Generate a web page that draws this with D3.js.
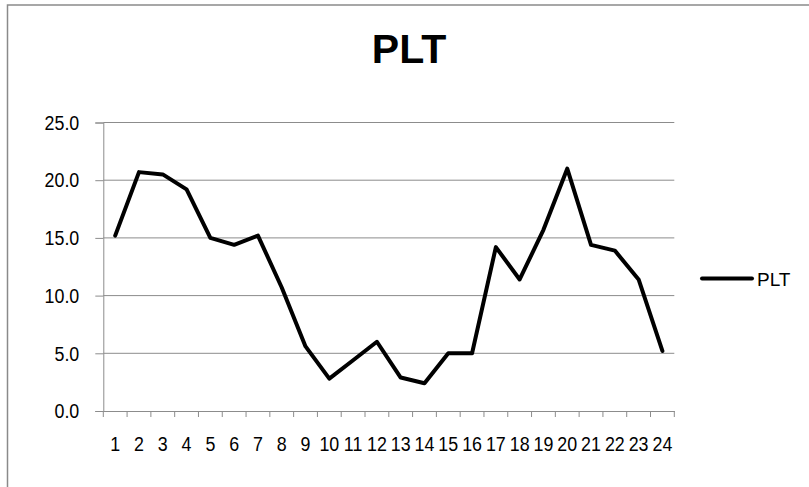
<!DOCTYPE html>
<html>
<head>
<meta charset="utf-8">
<script src="https://cdn.jsdelivr.net/npm/d3@7"></script>
<style>
  body { margin: 0; background: #fff; }
</style>
</head>
<body>
<div id="chart"></div>
<script>
// data
const categories = d3.range(1, 25).map(String)
const pltValues = [15.2, 20.7, 20.5, 19.2, 15.0, 14.4, 15.2, 10.7, 5.6, 2.8, 4.4, 6.0,
                   2.9, 2.4, 5.0, 5.0, 14.2, 11.4, 15.7, 21.0, 14.4, 13.9, 11.4, 5.2]
const yTicks = [0, 5, 10, 15, 20, 25]
const seriesName = "PLT"

const svgWidth = 809
const svgHeight = 487
const margin = { top: 122.5, left: 103.3, right: 809 - 674.3, bottom: 487 - 411 }
const width = svgWidth - margin.left - margin.right
const height = svgHeight - margin.top - margin.bottom
const font = "Liberation Sans, Arial, sans-serif"
const squeeze = 0.85   // tick labels are a narrow gothic face in the original

const svg = d3.select("#chart").append("svg")
    .attr("width", svgWidth)
    .attr("height", svgHeight)

// outer frame (only left/top visible in view)
svg.append("rect")
    .attr("x", 7.5).attr("y", 5)
    .attr("width", 900).attr("height", 600)
    .attr("fill", "none")
    .attr("stroke", "#8a8a8a")
    .attr("stroke-width", 1.5)

svg.append("text")
    .attr("x", 409)
    .attr("y", 63)
    .attr("text-anchor", "middle")
    .attr("font-family", font)
    .attr("font-weight", "bold")
    .attr("font-size", 41)
    .text(seriesName)

const chartGroup = svg.append("g")
    .attr("transform", `translate(${margin.left}, ${margin.top})`)

const xBand = d3.scaleBand().domain(categories).range([0, width])
const y = d3.scaleLinear().domain([0, 25]).range([height, 0])

// gridlines
chartGroup.append("g")
    .selectAll("line")
    .data(yTicks.filter(d => d > 0))
    .join("line")
    .attr("x1", 0).attr("x2", width)
    .attr("y1", d => y(d)).attr("y2", d => y(d))
    .attr("stroke", "#8c8c8c")
    .attr("stroke-width", 1)

// y axis
const yAxis = chartGroup.append("g")
    .call(d3.axisLeft(y).tickValues(yTicks).tickFormat(d3.format(".1f")).tickSize(8))
yAxis.select(".domain").attr("stroke", "#8c8c8c")
yAxis.selectAll(".tick line").attr("stroke", "#8c8c8c")
yAxis.selectAll(".tick text")
    .attr("font-family", font)
    .attr("font-size", 21)
    .attr("fill", "#000")
    .attr("x", -24 / squeeze)
    .attr("transform", `scale(${squeeze},1)`)

// x axis: ticks on category boundaries
const xAxis = chartGroup.append("g")
    .attr("transform", `translate(0, ${height})`)
    .call(d3.axisBottom(xBand).tickSize(0).tickPadding(25.5))
xAxis.select(".domain").attr("stroke", "#8c8c8c")
xAxis.selectAll(".tick text")
    .attr("font-family", font)
    .attr("font-size", 21)
    .attr("fill", "#000")
    .attr("transform", `scale(${squeeze},1)`)

chartGroup.append("g")
    .selectAll("line")
    .data(d3.range(categories.length + 1))
    .join("line")
    .attr("x1", i => i * xBand.step()).attr("x2", i => i * xBand.step())
    .attr("y1", height).attr("y2", height + 6)
    .attr("stroke", "#8c8c8c")

// line
const line = d3.line()
    .x((d, i) => xBand(categories[i]) + xBand.bandwidth() / 2)
    .y(d => y(d))

chartGroup.append("path")
    .datum(pltValues)
    .attr("d", line)
    .attr("fill", "none")
    .attr("stroke", "#000")
    .attr("stroke-width", 4)
    .attr("stroke-linejoin", "round")
    .attr("stroke-linecap", "round")

// legend
const legend = svg.append("g").attr("transform", "translate(702, 278.5)")
legend.append("line")
    .attr("x1", 0).attr("x2", 50)
    .attr("stroke", "#000")
    .attr("stroke-width", 4)
    .attr("stroke-linecap", "round")
legend.append("text")
    .attr("x", 55)
    .attr("y", 7)
    .attr("font-family", font)
    .attr("font-size", 19)
    .text(seriesName)
</script>
</body>
</html>
